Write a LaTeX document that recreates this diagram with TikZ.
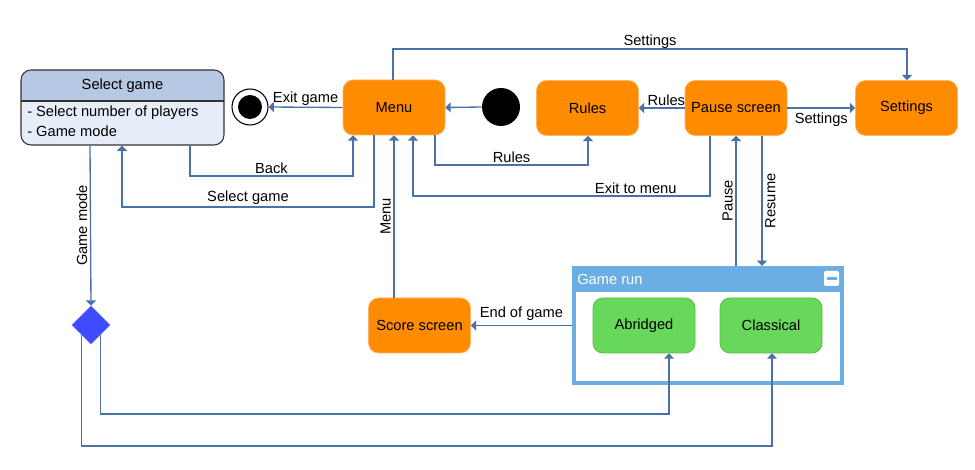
\documentclass[tikz,border=0pt]{standalone}
\usepackage{fontspec}
\setmainfont{Liberation Sans}
\usetikzlibrary{shapes.geometric,arrows.meta}
\definecolor{orangeC}{HTML}{FF8C00}
\definecolor{orangeB}{HTML}{FFB366}
\definecolor{lineC}{HTML}{4A72A6}
\definecolor{greenF}{HTML}{68D85C}
\definecolor{greenD}{HTML}{4FC03F}
\definecolor{hdrC}{HTML}{B7C8E4}
\definecolor{bodyC}{HTML}{E7EDF8}
\definecolor{runC}{HTML}{6AAEE3}
\definecolor{diaC}{HTML}{3F4BFF}
\newdimen\pxu \pxu=0.75pt
\begin{document}
\begin{tikzpicture}[x=0.75pt,y=-0.75pt,
  font=\fontsize{11}{13.2}\selectfont,
  ostate/.style={rectangle, rounded corners=7.5pt, fill=orangeC, draw=orangeB, line width=0.5pt,
     minimum width=102\pxu, minimum height=55\pxu, inner sep=0pt},
  gstate/.style={rectangle, rounded corners=7.5pt, fill=greenF, draw=greenD, line width=0.6pt,
     minimum width=102\pxu, minimum height=55\pxu, inner sep=0pt},
  conn/.style={draw=lineC, line width=1pt, -{Triangle[width=7.5pt,length=4pt]}},
  lbl/.style={inner sep=1pt, text=black},
  vlblL/.style={midway, rotate=90, anchor=south, inner sep=2pt},
  vlblR/.style={midway, rotate=90, anchor=north, inner sep=2pt}
]
\useasboundingbox (0,0) rectangle (975,470);

% Select game
\begin{scope}
  \clip[rounded corners=7.5pt] (21,70) rectangle (224,145);
  \fill[bodyC] (21,70) rectangle (224,145);
  \fill[hdrC] (21,70) rectangle (224,101);
\end{scope}
\draw[draw=black!80, line width=0.8pt] (21,101) -- (224,101);
\node[draw=black!80, line width=0.8pt, rounded corners=7.5pt, minimum width=203\pxu, minimum height=75\pxu, inner sep=0pt] (sg) at (122.5,107.5) {};
\node (sgt) at (122.5,86) {Select game};
\node[anchor=west, inner sep=0pt] (sg1) at (27,113) {- Select number of players};
\node[anchor=west, inner sep=0pt] (sg2) at (27,131) {- Game mode};

% final state
\node[circle, draw=black, line width=0.8pt, fill=white, minimum size=36\pxu, inner sep=0pt] (fin) at (250,107) {};
\node[circle, fill=black, minimum size=24\pxu, inner sep=0pt] (finc) at (fin.center) {};

% initial state
\node[circle, fill=black, minimum size=38\pxu, inner sep=0pt] (init) at (501,107) {};

% orange states
\node[ostate] (menu) at (394,107.5) {Menu};
\node[ostate] (rules) at (587.5,108) {Rules};
\node[ostate] (pause) at (736,108) {Pause screen};
\node[ostate] (settings) at (906.5,108) {Settings};
\node[ostate] (score) at (419.5,325.5) {Score screen};

% Game run container
\node[rectangle, draw=runC, line width=3pt, fill=white, minimum width=268\pxu, minimum height=115\pxu, inner sep=0pt] (run) at (708,325.5) {};
\fill[runC] (572,266) rectangle (844,292);
\node[anchor=west, text=white, inner sep=0pt] (runt) at (577,279) {Game run};
\node[rectangle, fill=white, rounded corners=1pt, minimum size=15\pxu, inner sep=0pt] (runmin) at (831.5,278.5) {};
\draw[runC, line width=2pt] ([xshift=-3.75pt]runmin.center) -- ([xshift=3.75pt]runmin.center);

\node[gstate] (abr) at (644,325.5) {Abridged};
\node[gstate] (cla) at (771,325.5) {Classical};

% decision
\node[diamond, fill=diaC, draw=diaC!80!white, minimum width=38\pxu, minimum height=38\pxu, inner sep=0pt] (dia) at (91,325) {};

% connectors
\draw[conn] (menu.west) -- node[lbl, above] {Exit game} (fin.east);
\draw[conn] (init.west) -- (menu.east);
\draw[conn] (pause.west) -- node[lbl, above, pos=0.4] {Rules} (rules.east);
\draw[conn] (pause.east) -- node[lbl, below, inner sep=3pt] {Settings} (settings.west);
\draw[conn] (menu.north -| 393,0) -- (393,49) -- node[lbl, above, inner sep=0pt] {Settings} (907,49) -- (settings.north -| 907,0);
\draw[conn] (menu.south -| 435,0) -- (435,165) -- node[lbl, above] {Rules} (588,165) -- (rules.south -| 588,0);
\draw[conn] (pause.south -| 710,0) -- (710,196) -- node[lbl, above, pos=0.25] {Exit to menu} (413,196) -- (menu.south -| 413,0);
\draw[conn] (sg.south -| 190,0) -- (190,176) -- node[lbl, above] {Back} (353,176) -- (menu.south -| 353,0);
\draw[conn] (menu.south -| 374,0) -- (374,207) -- node[lbl, above] {Select game} (122,207) -- (sg.south -| 122,0);
\draw[conn] (run.north -| 736,0) -- node[vlblL] {Pause} (pause.south -| 736,0);
\draw[conn] (pause.south -| 762,0) -- node[vlblR] {Resume} (run.north -| 762,0);
\draw[conn] (score.north -| 394,0) -- node[vlblL] {Menu} (menu.south -| 394,0);
\draw[conn] (sg.south -| 90,0) -- node[vlblL] {Game mode} (dia.north);
\draw[conn] (run.west) -- node[lbl, above, inner sep=3pt] {End of game} (score.east);
\draw[conn] (dia.south east) -- (dia.south east |- 0,414) -- (669,414) -- (abr.south -| 669,0);
\draw[conn] (dia.south west) -- (dia.south west |- 0,446) -- (772,446) -- (cla.south -| 772,0);
\end{tikzpicture}
\end{document}
